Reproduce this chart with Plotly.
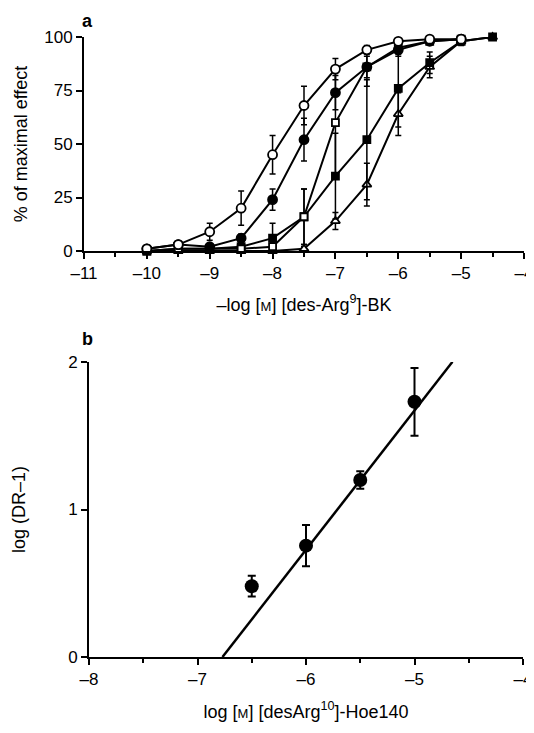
import plotly.graph_objects as go

# ---------- Panel a data: -log[M] des-Arg9-BK vs % of maximal effect ----------
log_conc = [-10, -9.5, -9, -8.5, -8, -7.5, -7, -6.5, -6, -5.5, -5, -4.5]

open_circle_y   = [1, 3, 9, 20, 45, 68, 85, 94, 98, 99, 99]
open_circle_err = [1, 1, 4, 8, 9, 9, 5, 2, 1, 1, 1]

filled_circle_y   = [1, 3, 2, 6, 24, 52, 74, 86, 94, 98, 99]
filled_circle_err = [1, 1, 1, 2, 5, 10, 8, 5, 3, 1, 1]

open_square_y   = [0, 1, 1, 1, 2, 16, 60, 86, 95, 98, 99]
open_square_err = [0, 1, 1, 1, 2, 13, 25, 9, 3, 1, 1]

filled_square_y   = [0, 1, 1, 2, 6, 16, 35, 52, 76, 88, 98, 100]
filled_square_err = [0, 1, 1, 1, 7, 13, 20, 28, 18, 5, 1, 1]

triangle_y   = [0, 0, 0, 0, 0, 1, 14, 31, 64, 86, 98, 100]
triangle_err = [0, 0, 0, 0, 0, 1, 4, 10, 10, 5, 2, 1]

xa_ticks = [-11, -10, -9, -8, -7, -6, -5, -4]
ya_ticks = [0, 25, 50, 75, 100]

# ---------- Panel b data: Schild plot ----------
hoe_conc = [-6.5, -6, -5.5, -5]
log_dr = [0.48, 0.755, 1.20, 1.73]
log_dr_err = [0.07, 0.14, 0.06, 0.23]
fit_slope = 0.944
fit_x_intercept = -6.77
fit_x_range = [-6.77, -4.65]

xb_ticks = [-8, -7, -6, -5, -4]
yb_ticks = [0, 1, 2]

FONT = "Liberation Sans, Arial, Helvetica, sans-serif"
BLACK = "black"

fig = go.Figure()

def add_series(y, err, symbol, filled, size):
    n = len(y)
    fig.add_trace(go.Scatter(
        x=log_conc[:n], y=y,
        mode="lines+markers",
        line=dict(color=BLACK, width=2),
        marker=dict(symbol=symbol, size=size,
                    color=BLACK if filled else "white",
                    line=dict(color=BLACK, width=1.8)),
        error_y=dict(type="data", array=err, visible=True,
                     color=BLACK, thickness=1.5, width=3),
        cliponaxis=False, showlegend=False,
        xaxis="x", yaxis="y",
    ))

add_series(triangle_y, triangle_err, "triangle-up", False, 8)
add_series(filled_square_y, filled_square_err, "square", True, 7)
add_series(open_square_y, open_square_err, "square", False, 7)
add_series(filled_circle_y, filled_circle_err, "circle", True, 9)
add_series(open_circle_y, open_circle_err, "circle", False, 9)

# Panel b
fit_y = [fit_slope * (x - fit_x_intercept) for x in fit_x_range]
fig.add_trace(go.Scatter(
    x=fit_x_range, y=fit_y, mode="lines",
    line=dict(color=BLACK, width=2.5),
    cliponaxis=False, showlegend=False, xaxis="x2", yaxis="y2",
))
fig.add_trace(go.Scatter(
    x=hoe_conc, y=log_dr, mode="markers",
    marker=dict(symbol="circle", size=14, color=BLACK),
    error_y=dict(type="data", array=log_dr_err, visible=True,
                 color=BLACK, thickness=2, width=4),
    cliponaxis=False, showlegend=False, xaxis="x2", yaxis="y2",
))

# the page places the figure 8 px in from the top-left corner;
# keep the page from overflowing the window
OFF = 8
W, H = 534 - OFF, 733 - 2 * OFF
def px_x(p): return (p - OFF) / W
def px_y(p): return 1 - (p - OFF) / H

axis_common = dict(
    showline=True, linecolor=BLACK, linewidth=2,
    ticks="outside", ticklen=6, tickwidth=2, tickcolor=BLACK,
    showgrid=False, zeroline=False, automargin=False,
    ticklabeloverflow="allow",
    tickfont=dict(family=FONT, size=17, color=BLACK),
)
title_font = dict(family=FONT, size=18, color=BLACK)

fig.update_layout(
    width=W, height=H,
    margin=dict(l=0, r=0, t=0, b=0),
    paper_bgcolor="white", plot_bgcolor="white",
    font=dict(family=FONT, color=BLACK),
    xaxis=dict(
        **axis_common,
        domain=[px_x(84), px_x(524)],
        range=[-11, -4], tickvals=xa_ticks,
        ticktext=[f"\u2013{abs(v)}" for v in xa_ticks],
        minor=dict(dtick=0.5, tick0=0, ticks="outside", ticklen=4, tickwidth=1.5, tickcolor=BLACK),
        anchor="y",
        title=dict(text="\u2013log [<span style='font-size:13px'>M</span>] [des-Arg<sup>9</sup>]-BK",
                   font=title_font, standoff=16),
    ),
    yaxis=dict(
        **axis_common,
        domain=[px_y(251), px_y(37)],
        range=[0, 100], tickvals=ya_ticks,
        anchor="x",
        title=dict(text="% of maximal effect", font=title_font, standoff=12),
    ),
    xaxis2=dict(
        **axis_common,
        domain=[px_x(89), px_x(523)],
        range=[-8, -4], tickvals=xb_ticks,
        ticktext=[f"\u2013{abs(v)}" for v in xb_ticks],
        minor=dict(dtick=0.5, tick0=0, ticks="outside", ticklen=4, tickwidth=1.5, tickcolor=BLACK),
        anchor="y2",
        title=dict(text="log [<span style='font-size:13px'>M</span>] [desArg<sup>10</sup>]-Hoe140",
                   font=title_font, standoff=17),
    ),
    yaxis2=dict(
        **axis_common,
        domain=[px_y(657), px_y(362)],
        range=[0, 2], tickvals=yb_ticks,
        anchor="x2",
        title=dict(text="log (DR\u20131)", font=title_font, standoff=38),
    ),
    annotations=[
        dict(text="<b>a</b>", x=px_x(80), y=px_y(9), xref="paper", yref="paper",
             xanchor="left", yanchor="top", showarrow=False,
             font=dict(family=FONT, size=18, color=BLACK)),
        dict(text="<b>b</b>", x=px_x(80), y=px_y(327), xref="paper", yref="paper",
             xanchor="left", yanchor="top", showarrow=False,
             font=dict(family=FONT, size=18, color=BLACK)),
    ],
)

fig.write_html("out.html")
